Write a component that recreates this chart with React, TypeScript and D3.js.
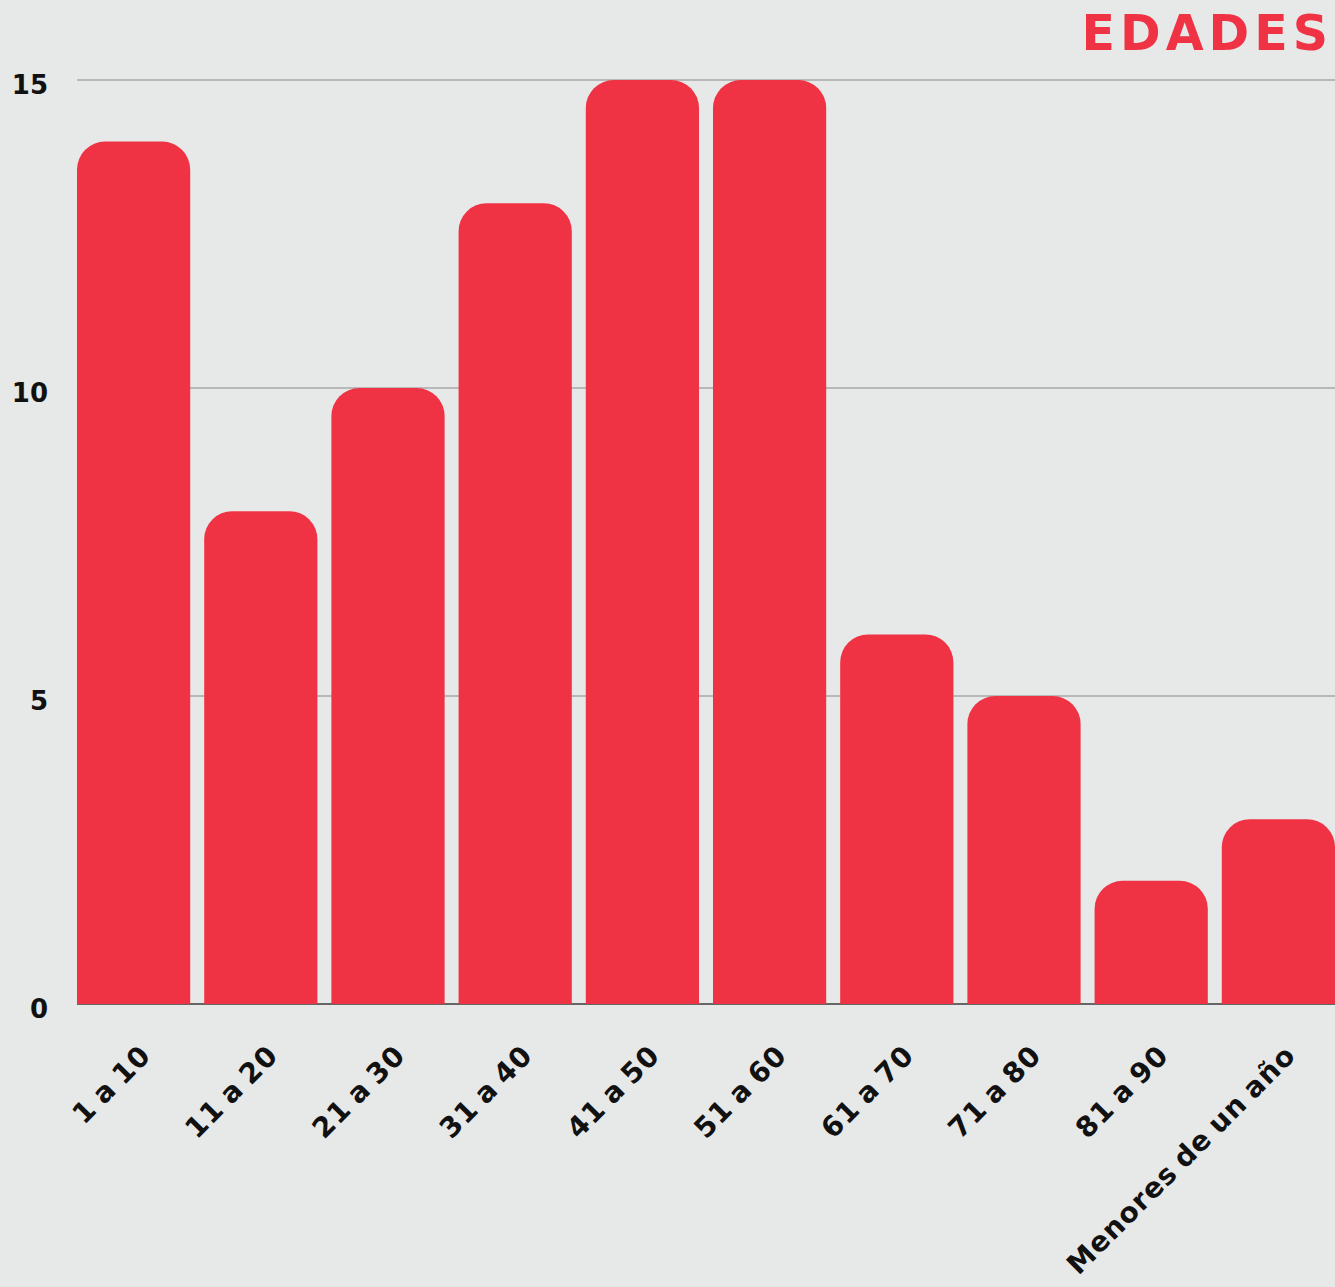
import React from "react";
import * as d3 from "d3";

const categories = ["1 a 10", "11 a 20", "21 a 30", "31 a 40", "41 a 50", "51 a 60", "61 a 70", "71 a 80", "81 a 90", "Menores de un año"];
const values = [14, 8, 10, 13, 15, 15, 6, 5, 2, 3];
const yTicks = [0, 5, 10, 15];
const title = "EDADES";

const W = 1335;
const H = 1287;
const left = 77;
const right = 1335;
const top = 80;
const bottom = 1004;
const RED = "#ef3344";
const FONT = "'DejaVu Sans', 'Open Sans', sans-serif";

function roundedTop(x: number, y: number, w: number, h: number, r: number) {
  const rr = Math.min(r, w / 2, h);
  return `M${x},${y + h}V${y + rr}A${rr},${rr} 0 0 1 ${x + rr},${y}H${x + w - rr}A${rr},${rr} 0 0 1 ${x + w},${y + rr}V${y + h}Z`;
}

export default function App() {
  const x = d3.scaleBand<string>().domain(categories).range([left, right]).paddingInner(0.11).paddingOuter(0);
  const y = d3.scaleLinear().domain([0, 15]).range([bottom, top]);
  return (
    <svg width={W} height={H} style={{ position: "absolute", left: 0, top: 0, display: "block" }}>
      <rect x={0} y={0} width={W} height={H} fill="#e7e8e8" />
      <text x={1333} y={50} textAnchor="end" fill={RED} fontFamily={FONT} fontWeight={700} fontSize={49} letterSpacing={5}>
        {title}
      </text>
      {yTicks.filter((t) => t > 0).map((t) => (
        <line key={t} x1={left} x2={right} y1={y(t)} y2={y(t)} stroke="#a8a8a8" strokeWidth={1.5} />
      ))}
      {yTicks.map((t) => (
        <text key={t} x={48} y={y(t)} dy="0.52em" textAnchor="end" fontFamily={FONT} fontWeight={700} fontSize={26} fill="#111">
          {t}
        </text>
      ))}
      <line x1={left} x2={right} y1={bottom} y2={bottom} stroke="#666" strokeWidth={2} />
      {categories.map((c, i) => (
        <path key={c} d={roundedTop(x(c)!, y(values[i]), x.bandwidth(), bottom - y(values[i]), 28)} fill={RED} />
      ))}
      {categories.map((c) => {
        const cx = x(c)! + x.bandwidth() / 2 + 19;
        const cy = bottom + 53;
        return (
          <text key={c} x={cx} y={cy} transform={`rotate(-45 ${cx} ${cy})`} textAnchor="end" fontFamily={FONT} fontWeight={700} fontSize={28} letterSpacing={1} wordSpacing={-3} fill="#111">
            {c}
          </text>
        );
      })}
    </svg>
  );
}
